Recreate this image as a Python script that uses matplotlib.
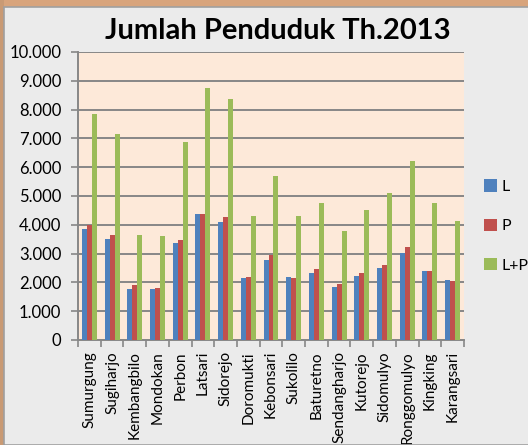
import matplotlib.pyplot as plt
import matplotlib.patches as patches
import numpy as np

plt.rcParams['font.family'] = ['Lato', 'DejaVu Sans']

# Data
desa = ['Sumurgung', 'Sugiharjo', 'Kembangbilo', 'Mondokan', 'Perbon', 'Latsari',
        'Sidorejo', 'Doromukti', 'Kebonsari', 'Sukolilo', 'Baturetno',
        'Sendangharjo', 'Kutorejo', 'Sidomulyo', 'Ronggomulyo', 'Kingking',
        'Karangsari']
laki = [3850, 3500, 1770, 1770, 3370, 4370, 4110, 2140, 2780, 2180, 2310,
        1830, 2210, 2490, 3010, 2380, 2070]
perempuan = [3990, 3630, 1900, 1820, 3480, 4370, 4280, 2190, 2940, 2140, 2450,
             1960, 2310, 2600, 3220, 2380, 2060]
total = [7860, 7140, 3660, 3600, 6860, 8740, 8370, 4300, 5690, 4290, 4750,
         3780, 4500, 5090, 6200, 4770, 4130]
series_names = ['L', 'P', 'L+P']
colors = ['#4f81bd', '#c0504d', '#9bbb59']

fig = plt.figure(figsize=(5.28, 4.45), dpi=100, facecolor='#ebebeb')

# photo strip at top / left edge and panel border
fig.patches.append(patches.Rectangle((0, 1 - 7 / 445), 1, 7 / 445, transform=fig.transFigure,
                                     facecolor='#d8a47c', edgecolor='none', zorder=0))
fig.patches.append(patches.Rectangle((0, 0), 4 / 528, 1, transform=fig.transFigure,
                                     facecolor='#c99a74', edgecolor='none', zorder=0))
fig.patches.append(patches.Rectangle((4 / 528, 0), 1, 1 - 7 / 445, transform=fig.transFigure,
                                     facecolor='none', edgecolor='#a0a0a0', linewidth=1.2, zorder=1))

ax = fig.add_axes([78 / 528, 1 - 340 / 445, 386 / 528, 288 / 445])
ax.set_facecolor('#fde9d9')

x = np.arange(len(desa))
w = 0.22
for i, (vals, name, c) in enumerate(zip([laki, perempuan, total], series_names, colors)):
    ax.bar(x + (i - 1) * w, vals, width=w, color=c, label=name, zorder=3)

ax.set_xlim(-0.5, len(desa) - 0.5)
ax.set_ylim(0, 10000)
yt = np.arange(0, 10001, 1000)
ax.set_yticks(yt)
ax.set_yticklabels(['0' if v == 0 else '{:,}'.format(v).replace(',', '.') for v in yt], fontsize=12)
ax.yaxis.grid(True, color='#878787', linewidth=1.4, zorder=1)
ax.set_axisbelow(True)

ax.set_xticks(x)
ax.set_xticklabels(desa, rotation=90, fontsize=11)
ax.tick_params(axis='x', length=0, pad=8)
ax.set_xticks(np.arange(-0.5, len(desa), 1), minor=True)
ax.tick_params(axis='x', which='minor', length=5, color='#878787', width=1.2)
ax.tick_params(axis='y', length=5, color='#878787', width=1.2, pad=7)

for s in ['top', 'right']:
    ax.spines[s].set_visible(False)
for s in ['left', 'bottom']:
    ax.spines[s].set_color('#878787')
    ax.spines[s].set_linewidth(1.4)

fig.text(278 / 528, 1 - 31 / 445, 'Jumlah Penduduk Th.2013', ha='center', va='center',
         fontsize=21, fontweight='bold')

fig.legend(loc='upper left', bbox_to_anchor=(478 / 528, 1 - 173 / 445), frameon=False,
           fontsize=11.5, handlelength=0.8, handleheight=0.8, handletextpad=0.3,
           labelspacing=1.55, borderaxespad=0)

fig.savefig('out.png', dpi=100, facecolor=fig.get_facecolor())
